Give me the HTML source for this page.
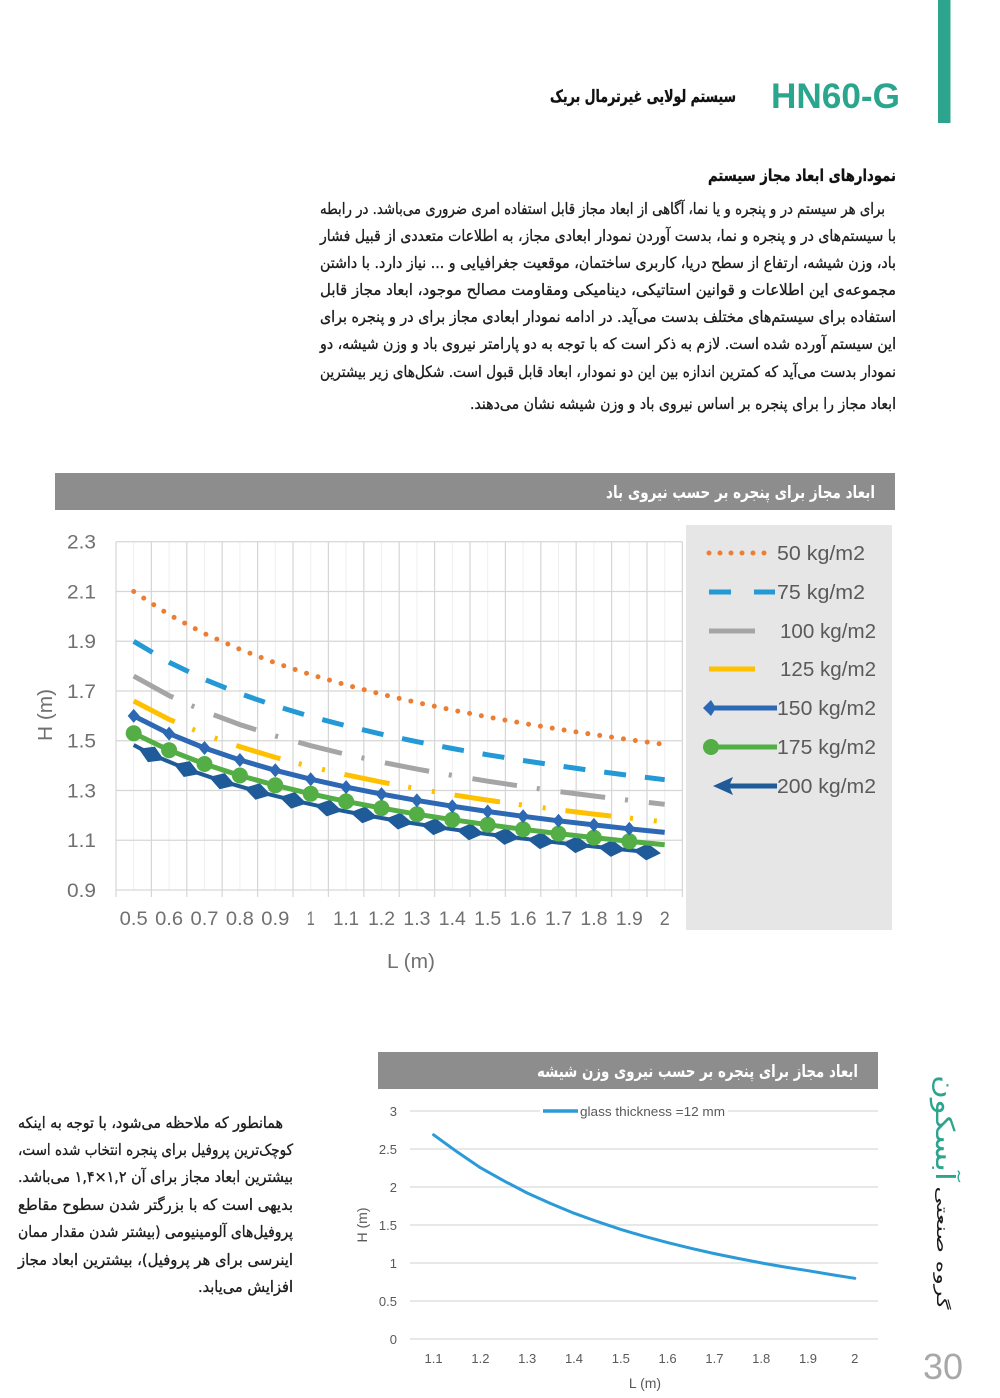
<!DOCTYPE html>
<html>
<head>
<meta charset="utf-8">
<style>
html,body{margin:0;padding:0;background:#fff;}
svg{display:block;}
.fa{font-family:"DejaVu Sans",sans-serif;direction:rtl;}
.num{font-family:"Liberation Sans Narrow","Liberation Sans",sans-serif;}
</style>
</head>
<body>
<svg width="1000" height="1398" viewBox="0 0 1000 1398" xmlns="http://www.w3.org/2000/svg">
<rect x="0" y="0" width="1000" height="1398" fill="#ffffff"/>

<!-- Header -->
<rect x="938" y="0" width="12.5" height="123" fill="#2DA58E"/>
<text x="771" y="108" font-family="Liberation Sans, sans-serif" font-weight="bold" font-size="35" fill="#2BA68E" textLength="129" lengthAdjust="spacingAndGlyphs">HN60-G</text>
<text class="fa" x="643" y="102" text-anchor="middle" direction="rtl" font-size="17" font-weight="bold" fill="#111" stroke="#111" stroke-width="0.3" textLength="186" lengthAdjust="spacingAndGlyphs">سیستم لولایی غیرترمال بریک</text>

<text class="fa" x="802" y="181" text-anchor="middle" direction="rtl" font-size="16.5" font-weight="bold" fill="#111" stroke="#111" stroke-width="0.3" textLength="188" lengthAdjust="spacingAndGlyphs">نمودارهای ابعاد مجاز سیستم</text>

<!-- Main paragraph -->
<g class="fa" font-size="15.5" fill="#1e1e1e" stroke="#1e1e1e" stroke-width="0.35">
<text x="602.5" y="214" text-anchor="middle" direction="rtl" textLength="565" lengthAdjust="spacingAndGlyphs">برای هر سیستم در و پنجره و یا نما، آگاهی از ابعاد مجاز قابل استفاده امری ضروری می&#8204;باشد. در رابطه</text>
<text x="608" y="241" text-anchor="middle" direction="rtl" textLength="576" lengthAdjust="spacingAndGlyphs">با سیستم&#8204;های در و پنجره و نما، بدست آوردن نمودار ابعادی مجاز، به اطلاعات متعددی از قبیل فشار</text>
<text x="608" y="268" text-anchor="middle" direction="rtl" textLength="576" lengthAdjust="spacingAndGlyphs">باد، وزن شیشه، ارتفاع از سطح دریا، کاربری ساختمان، موقعیت جغرافیایی و ... نیاز دارد. با داشتن</text>
<text x="608" y="295" text-anchor="middle" direction="rtl" textLength="576" lengthAdjust="spacingAndGlyphs">مجموعه&#8204;ی این اطلاعات و قوانین استاتیکی، دینامیکی ومقاومت مصالح موجود، ابعاد مجاز قابل</text>
<text x="608" y="322" text-anchor="middle" direction="rtl" textLength="576" lengthAdjust="spacingAndGlyphs">استفاده برای سیستم&#8204;های مختلف بدست می&#8204;آید. در ادامه نمودار ابعادی مجاز برای در و پنجره برای</text>
<text x="608" y="349" text-anchor="middle" direction="rtl" textLength="576" lengthAdjust="spacingAndGlyphs">این سیستم آورده شده است. لازم به ذکر است که با توجه به دو پارامتر نیروی باد و وزن شیشه، دو</text>
<text x="608" y="377" text-anchor="middle" direction="rtl" textLength="576" lengthAdjust="spacingAndGlyphs">نمودار بدست می&#8204;آید که کمترین اندازه بین این دو نمودار، ابعاد قابل قبول است. شکل&#8204;های زیر بیشترین</text>
<text x="683" y="409" text-anchor="middle" direction="rtl" textLength="426" lengthAdjust="spacingAndGlyphs">ابعاد مجاز را برای پنجره بر اساس نیروی باد و وزن شیشه نشان می&#8204;دهند.</text>
</g>

<!-- ============ Chart 1 ============ -->
<rect x="55" y="473" width="840" height="37" fill="#8D8D8D"/>
<text class="fa" x="740.5" y="498" text-anchor="middle" direction="rtl" font-size="17" font-weight="bold" fill="#ffffff" textLength="269" lengthAdjust="spacingAndGlyphs">ابعاد مجاز برای پنجره بر حسب نیروی باد</text>

<!-- legend panel -->
<rect x="686" y="525" width="206" height="405" fill="#E6E6E6"/>

<!-- minor vertical grid -->
<g stroke="#EFEFEF" stroke-width="1">
<path d="M133.7 542V890M169.1 542V890M204.5 542V890M239.9 542V890M275.3 542V890M310.7 542V890M346.1 542V890M381.5 542V890M416.9 542V890M452.3 542V890M487.7 542V890M523.1 542V890M558.5 542V890M593.9 542V890M629.3 542V890M664.7 542V890"/>
</g>
<!-- major vertical grid -->
<g stroke="#D6D6D6" stroke-width="1.2">
<path d="M116 541.75V897M151.4 541.75V897M186.8 541.75V897M222.2 541.75V897M257.6 541.75V897M293 541.75V897M328.4 541.75V897M363.8 541.75V897M399.2 541.75V897M434.6 541.75V897M470 541.75V897M505.4 541.75V897M540.8 541.75V897M576.2 541.75V897M611.6 541.75V897M647 541.75V897M682.4 541.75V897"/>
</g>
<!-- horizontal grid -->
<g stroke="#D6D6D6" stroke-width="1.2">
<path d="M116 541.75H682.4M116 591.5H682.4M116 641.25H682.4M116 691H682.4M116 740.75H682.4M116 790.5H682.4M116 840.25H682.4M116 890H682.4"/>
</g>

<!-- Y labels -->
<g class="num" font-size="19" fill="#707070" text-anchor="end">
<text x="96" y="548.5" textLength="29" lengthAdjust="spacingAndGlyphs">2.3</text>
<text x="96" y="598.3" textLength="29" lengthAdjust="spacingAndGlyphs">2.1</text>
<text x="96" y="648" textLength="29" lengthAdjust="spacingAndGlyphs">1.9</text>
<text x="96" y="697.8" textLength="29" lengthAdjust="spacingAndGlyphs">1.7</text>
<text x="96" y="747.5" textLength="29" lengthAdjust="spacingAndGlyphs">1.5</text>
<text x="96" y="797.3" textLength="29" lengthAdjust="spacingAndGlyphs">1.3</text>
<text x="96" y="847" textLength="29" lengthAdjust="spacingAndGlyphs">1.1</text>
<text x="96" y="896.8" textLength="29" lengthAdjust="spacingAndGlyphs">0.9</text>
</g>
<!-- X labels -->
<g class="num" font-size="19" fill="#707070" text-anchor="middle">
<text x="133.7" y="925" textLength="28" lengthAdjust="spacingAndGlyphs">0.5</text>
<text x="169.1" y="925" textLength="28" lengthAdjust="spacingAndGlyphs">0.6</text>
<text x="204.5" y="925" textLength="28" lengthAdjust="spacingAndGlyphs">0.7</text>
<text x="239.9" y="925" textLength="28" lengthAdjust="spacingAndGlyphs">0.8</text>
<text x="275.3" y="925" textLength="28" lengthAdjust="spacingAndGlyphs">0.9</text>
<text x="310.7" y="925" textLength="8" lengthAdjust="spacingAndGlyphs">1</text>
<text x="346.1" y="925" textLength="26" lengthAdjust="spacingAndGlyphs">1.1</text>
<text x="381.5" y="925" textLength="27" lengthAdjust="spacingAndGlyphs">1.2</text>
<text x="416.9" y="925" textLength="27" lengthAdjust="spacingAndGlyphs">1.3</text>
<text x="452.3" y="925" textLength="27" lengthAdjust="spacingAndGlyphs">1.4</text>
<text x="487.7" y="925" textLength="27" lengthAdjust="spacingAndGlyphs">1.5</text>
<text x="523.1" y="925" textLength="27" lengthAdjust="spacingAndGlyphs">1.6</text>
<text x="558.5" y="925" textLength="27" lengthAdjust="spacingAndGlyphs">1.7</text>
<text x="593.9" y="925" textLength="27" lengthAdjust="spacingAndGlyphs">1.8</text>
<text x="629.3" y="925" textLength="27" lengthAdjust="spacingAndGlyphs">1.9</text>
<text x="664.7" y="925" textLength="10" lengthAdjust="spacingAndGlyphs">2</text>
</g>
<text class="num" x="411" y="968" text-anchor="middle" font-size="20" fill="#707070" textLength="48" lengthAdjust="spacingAndGlyphs">L (m)</text>
<text class="num" transform="translate(52,715) rotate(-90)" x="0" y="0" text-anchor="middle" font-size="20" fill="#707070" textLength="52" lengthAdjust="spacingAndGlyphs">H (m)</text>

<!-- Series 50: dotted orange -->
<polyline fill="none" stroke="#ED7D31" stroke-width="5" stroke-linecap="round" stroke-dasharray="0 12" points="133.7,591.5 169.1,614.8 204.5,633.6 239.9,649.4 275.3,662.9 310.7,674.6 346.1,685 381.5,694.2 416.9,702.5 452.3,710 487.7,717 523.1,723.3 558.5,729.2 593.9,734.6 629.3,739.7 664.7,744.5"/>
<!-- Series 75: dashed light blue -->
<polyline fill="none" stroke="#2399D6" stroke-width="5" stroke-dasharray="22 19" points="133.7,641.3 169.1,662.3 204.5,679.4 239.9,693.6 275.3,705.8 310.7,716.5 346.1,725.8 381.5,734.2 416.9,741.7 452.3,748.5 487.7,754.8 523.1,760.5 558.5,765.8 593.9,770.8 629.3,775.4 664.7,779.7"/>
<!-- Series 100: long dash dot gray -->
<polyline fill="none" stroke="#A5A5A5" stroke-width="5" stroke-dasharray="45 20 3 21" points="133.7,676.1 169.1,695.6 204.5,711.4 239.9,724.6 275.3,735.9 310.7,745.7 346.1,754.4 381.5,762.1 416.9,769.1 452.3,775.4 487.7,781.2 523.1,786.5 558.5,791.5 593.9,796 629.3,800.3 664.7,804.3"/>
<!-- Series 125: long dash dot dot yellow -->
<polyline fill="none" stroke="#FFC000" stroke-width="5" stroke-dasharray="46 19 3 21 3 20" points="133.7,701 169.1,719.3 204.5,734.3 239.9,746.7 275.3,757.4 310.7,766.7 346.1,774.8 381.5,782.1 416.9,788.7 452.3,794.7 487.7,800.1 523.1,805.1 558.5,809.8 593.9,814.1 629.3,818.1 664.7,821.9"/>

<!-- Series 200: dark blue diamonds -->
<defs>
<polygon id="dia" points="-14,0 0,-8.5 14,0 0,8.5" fill="#1F5A99"/>
<polygon id="sm" points="-6,0 0,-7 6,0 0,7" fill="#2C68B4"/>
</defs>
<polyline fill="none" stroke="#1F5A99" stroke-width="4" points="133.7,745 151.4,754.4 186.8,769.1 222.2,781.2 257.6,791.5 293,800.3 328.4,808.1 363.8,814.9 399.2,821.1 434.6,826.7 470,831.8 505.4,836.4 540.8,840.7 576.2,844.7 611.6,848.4 647,851.9"/>
<use href="#dia" transform="translate(151.4,754.4) rotate(24)"/>
<use href="#dia" transform="translate(186.8,769.1) rotate(20.7)"/>
<use href="#dia" transform="translate(222.2,781.2) rotate(17.6)"/>
<use href="#dia" transform="translate(257.6,791.5) rotate(15)"/>
<use href="#dia" transform="translate(293,800.3) rotate(13.2)"/>
<use href="#dia" transform="translate(328.4,808.1) rotate(11.7)"/>
<use href="#dia" transform="translate(363.8,814.9) rotate(10.4)"/>
<use href="#dia" transform="translate(399.2,821.1) rotate(9.5)"/>
<use href="#dia" transform="translate(434.6,826.7) rotate(8.6)"/>
<use href="#dia" transform="translate(470,831.8) rotate(7.8)"/>
<use href="#dia" transform="translate(505.4,836.4) rotate(7.2)"/>
<use href="#dia" transform="translate(540.8,840.7) rotate(6.7)"/>
<use href="#dia" transform="translate(576.2,844.7) rotate(6.2)"/>
<use href="#dia" transform="translate(611.6,848.4) rotate(5.8)"/>
<use href="#dia" transform="translate(647,851.9) rotate(5.5)"/>

<!-- Series 175: green with circles -->
<polyline fill="none" stroke="#52AE45" stroke-width="5" stroke-linejoin="round" points="133.7,733.3 169.1,750.2 204.5,764 239.9,775.5 275.3,785.3 310.7,793.8 346.1,801.4 381.5,808.1 416.9,814.2 452.3,819.7 487.7,824.7 523.1,829.3 558.5,833.6 593.9,837.6 629.3,841.3 664.7,844.8"/>
<g fill="#52AE45">
<circle cx="133.7" cy="733.3" r="8"/><circle cx="169.1" cy="750.2" r="8"/><circle cx="204.5" cy="764" r="8"/><circle cx="239.9" cy="775.5" r="8"/><circle cx="275.3" cy="785.3" r="8"/><circle cx="310.7" cy="793.8" r="8"/><circle cx="346.1" cy="801.4" r="8"/><circle cx="381.5" cy="808.1" r="8"/><circle cx="416.9" cy="814.2" r="8"/><circle cx="452.3" cy="819.7" r="8"/><circle cx="487.7" cy="824.7" r="8"/><circle cx="523.1" cy="829.3" r="8"/><circle cx="558.5" cy="833.6" r="8"/><circle cx="593.9" cy="837.6" r="8"/><circle cx="629.3" cy="841.3" r="8"/>
</g>

<!-- Series 150: blue with small markers -->
<polyline fill="none" stroke="#2C68B4" stroke-width="5" stroke-linejoin="round" points="133.7,715.9 169.1,733.6 204.5,748 239.9,760 275.3,770.3 310.7,779.2 346.1,787.1 381.5,794.1 416.9,800.4 452.3,806.2 487.7,811.5 523.1,816.3 558.5,820.8 593.9,824.9 629.3,828.8 664.7,832.4"/>
<use href="#sm" transform="translate(133.7,715.9)"/><use href="#sm" transform="translate(169.1,733.6)"/><use href="#sm" transform="translate(204.5,748)"/><use href="#sm" transform="translate(239.9,760)"/><use href="#sm" transform="translate(275.3,770.3)"/><use href="#sm" transform="translate(310.7,779.2)"/><use href="#sm" transform="translate(346.1,787.1)"/><use href="#sm" transform="translate(381.5,794.1)"/><use href="#sm" transform="translate(416.9,800.4)"/><use href="#sm" transform="translate(452.3,806.2)"/><use href="#sm" transform="translate(487.7,811.5)"/><use href="#sm" transform="translate(523.1,816.3)"/><use href="#sm" transform="translate(558.5,820.8)"/><use href="#sm" transform="translate(593.9,824.9)"/><use href="#sm" transform="translate(629.3,828.8)"/>

<!-- Legend chart 1 -->
<line x1="709" y1="553" x2="775" y2="553" stroke="#ED7D31" stroke-width="5" stroke-linecap="round" stroke-dasharray="0 11"/>
<path d="M709 592H731M754 592H775" stroke="#2399D6" stroke-width="5"/>
<line x1="709" y1="631" x2="755" y2="631" stroke="#A5A5A5" stroke-width="5"/>
<line x1="709" y1="669" x2="755" y2="669" stroke="#FFC000" stroke-width="5"/>
<line x1="712" y1="708" x2="777" y2="708" stroke="#2C68B4" stroke-width="5"/>
<polygon points="703,708 711,700 716,708 711,716" fill="#2C68B4"/>
<line x1="712" y1="747" x2="777" y2="747" stroke="#52AE45" stroke-width="5"/>
<circle cx="711" cy="747" r="8" fill="#52AE45"/>
<line x1="725" y1="786" x2="777" y2="786" stroke="#1F5A99" stroke-width="5"/>
<polygon points="713,786 733,777 729,786 733,795" fill="#1F5A99"/>
<g class="num" font-size="20" fill="#5A5A5A">
<text x="777" y="560" textLength="88" lengthAdjust="spacingAndGlyphs">50 kg/m2</text>
<text x="777" y="599" textLength="88" lengthAdjust="spacingAndGlyphs">75 kg/m2</text>
<text x="780" y="638" textLength="96" lengthAdjust="spacingAndGlyphs">100 kg/m2</text>
<text x="780" y="676" textLength="96" lengthAdjust="spacingAndGlyphs">125 kg/m2</text>
<text x="777" y="715" textLength="99" lengthAdjust="spacingAndGlyphs">150 kg/m2</text>
<text x="777" y="754" textLength="99" lengthAdjust="spacingAndGlyphs">175 kg/m2</text>
<text x="777" y="793" textLength="99" lengthAdjust="spacingAndGlyphs">200 kg/m2</text>
</g>

<!-- ============ Left paragraph ============ -->
<g class="fa" font-size="15.5" fill="#1e1e1e" stroke="#1e1e1e" stroke-width="0.35">
<text x="150.5" y="1128" text-anchor="middle" direction="rtl" textLength="265" lengthAdjust="spacingAndGlyphs">همانطور که ملاحظه می&#8204;شود، با توجه به اینکه</text>
<text x="155.5" y="1155" text-anchor="middle" direction="rtl" textLength="275" lengthAdjust="spacingAndGlyphs">کوچک&#8204;ترین پروفیل برای پنجره انتخاب شده است،</text>
<text x="155.5" y="1182" text-anchor="middle" direction="rtl" textLength="275" lengthAdjust="spacingAndGlyphs">بیشترین ابعاد مجاز برای آن ۱,۲×۱,۴ می&#8204;باشد.</text>
<text x="155.5" y="1210" text-anchor="middle" direction="rtl" textLength="275" lengthAdjust="spacingAndGlyphs">بدیهی است که با بزرگتر شدن سطوح مقاطع</text>
<text x="155.5" y="1237" text-anchor="middle" direction="rtl" textLength="275" lengthAdjust="spacingAndGlyphs">پروفیل&#8204;های آلومینیومی (بیشتر شدن مقدار ممان</text>
<text x="155.5" y="1265" text-anchor="middle" direction="rtl" textLength="275" lengthAdjust="spacingAndGlyphs">اینرسی برای هر پروفیل)، بیشترین ابعاد مجاز</text>
<text x="245.5" y="1292" text-anchor="middle" direction="rtl" textLength="95" lengthAdjust="spacingAndGlyphs">افزایش می&#8204;یابد.</text>
</g>

<!-- ============ Chart 2 ============ -->
<rect x="378" y="1052" width="500" height="37" fill="#8D8D8D"/>
<text class="fa" x="697.5" y="1077" text-anchor="middle" direction="rtl" font-size="17" font-weight="bold" fill="#ffffff" textLength="321" lengthAdjust="spacingAndGlyphs">ابعاد مجاز برای پنجره بر حسب نیروی وزن شیشه</text>

<g stroke="#D9D9D9" stroke-width="1.2">
<path d="M410 1111H878M410 1149H878M410 1187H878M410 1225H878M410 1263H878M410 1301H878M410 1339H878"/>
</g>
<g class="num" font-size="13" fill="#595959" text-anchor="end">
<text x="397" y="1116">3</text>
<text x="397" y="1154">2.5</text>
<text x="397" y="1192">2</text>
<text x="397" y="1230">1.5</text>
<text x="397" y="1268">1</text>
<text x="397" y="1306">0.5</text>
<text x="397" y="1344">0</text>
</g>
<g class="num" font-size="13" fill="#595959" text-anchor="middle">
<text x="433.6" y="1363">1.1</text>
<text x="480.4" y="1363">1.2</text>
<text x="527.2" y="1363">1.3</text>
<text x="574" y="1363">1.4</text>
<text x="620.8" y="1363">1.5</text>
<text x="667.6" y="1363">1.6</text>
<text x="714.4" y="1363">1.7</text>
<text x="761.2" y="1363">1.8</text>
<text x="808" y="1363">1.9</text>
<text x="854.8" y="1363">2</text>
</g>
<text class="num" x="645" y="1388" text-anchor="middle" font-size="14" fill="#595959">L (m)</text>
<text class="num" transform="translate(367,1225) rotate(-90)" x="0" y="0" text-anchor="middle" font-size="14" fill="#595959">H (m)</text>

<rect x="540" y="1104" width="188" height="14" fill="#ffffff"/>
<line x1="543" y1="1111" x2="578" y2="1111" stroke="#2A9AD8" stroke-width="3.5"/>
<text class="num" x="580" y="1116" font-size="13" fill="#595959" textLength="145" lengthAdjust="spacingAndGlyphs">glass thickness =12 mm</text>

<polyline fill="none" stroke="#2A9AD8" stroke-width="3" stroke-linejoin="round" stroke-linecap="round" points="433.6,1134.8 457,1151.8 480.4,1167.7 503.8,1180.8 527.2,1193 550.6,1203.5 574,1213.2 597.4,1221.6 620.8,1229.4 644.2,1236.3 667.6,1242.6 691,1248.3 714.4,1253.6 737.8,1258.4 761.2,1262.9 784.6,1267 808,1270.7 831.4,1274.6 854.8,1278.3"/>

<!-- ============ Right side vertical brand ============ -->
<g transform="translate(941,1192) rotate(90)">
<text class="fa" x="-64" y="5" text-anchor="middle" direction="rtl" font-size="26" fill="#2DA58E" textLength="106" lengthAdjust="spacingAndGlyphs">آبسکون</text>
<text class="fa" x="56" y="4" text-anchor="middle" direction="rtl" font-size="16" fill="#1a1a1a" textLength="123" lengthAdjust="spacingAndGlyphs">گروه صنعتی</text>
</g>
<text x="943" y="1379" text-anchor="middle" font-family="Liberation Sans, sans-serif" font-size="36" fill="#A8A8A8">30</text>
</svg>
</body>
</html>
